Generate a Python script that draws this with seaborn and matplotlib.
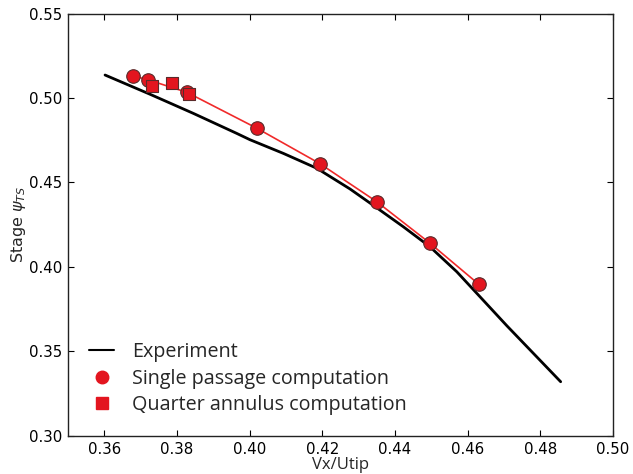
import numpy as np
import pandas as pd
import matplotlib
matplotlib.use("Agg")
import matplotlib.pyplot as plt
from matplotlib.lines import Line2D
import seaborn as sns

# ---- data ----
exp_x = [0.3602, 0.3726, 0.3845, 0.3964, 0.4001, 0.4093, 0.4185, 0.4276,
         0.4350, 0.4423, 0.4496, 0.4570, 0.4652, 0.4708, 0.4856]
exp_y = [0.5136, 0.5022, 0.4909, 0.4791, 0.4753, 0.4672, 0.4584, 0.4462,
         0.4350, 0.4238, 0.4120, 0.3972, 0.3782, 0.3652, 0.3321]

single_x = [0.3678, 0.3721, 0.3827, 0.4020, 0.4193, 0.4350, 0.4495, 0.4631]
single_y = [0.5132, 0.5107, 0.5034, 0.4821, 0.4612, 0.4386, 0.4143, 0.3897]

quarter_x = [0.3730, 0.3785, 0.3833]
quarter_y = [0.5071, 0.5091, 0.5022]

x_ticks = [0.36, 0.38, 0.40, 0.42, 0.44, 0.46, 0.48, 0.50]
y_ticks = [0.30, 0.35, 0.40, 0.45, 0.50, 0.55]

df_exp = pd.DataFrame({"x": exp_x, "y": exp_y})
df_single = pd.DataFrame({"x": single_x, "y": single_y})
df_quarter = pd.DataFrame({"x": quarter_x, "y": quarter_y})

sns.set_style("ticks")
plt.rcParams["font.family"] = ["DejaVu Sans"]

red = "#e3151f"
edge = "#5a2a2a"

fig = plt.figure(figsize=(6.33, 4.74), dpi=100)
ax = fig.add_axes([0.1074, 0.0802, 0.861, 0.8913])

sns.lineplot(data=df_exp, x="x", y="y", color="black", lw=2.0,
             estimator=None, sort=False, ax=ax, zorder=2)
sns.lineplot(data=df_single, x="x", y="y", color="#f02a2a", lw=1.2,
             estimator=None, sort=True, ax=ax, zorder=3)
sns.scatterplot(data=df_single, x="x", y="y", marker="o", s=95, color=red,
                edgecolor=edge, linewidth=0.8, ax=ax, zorder=4)
sns.scatterplot(data=df_quarter, x="x", y="y", marker="s", s=85, color=red,
                edgecolor=edge, linewidth=0.8, ax=ax, zorder=5)

ax.set_xlim(0.35, 0.50)
ax.set_ylim(0.30, 0.55)
ax.set_xticks(x_ticks)
ax.set_yticks(y_ticks)
ax.set_xticklabels([f"{v:.2f}" for v in x_ticks])
ax.set_yticklabels([f"{v:.2f}" for v in y_ticks])
ax.tick_params(direction="in", top=True, right=True, length=4, width=0.8,
               labelsize=10.8, colors="black")
ax.tick_params(axis="x", pad=4)
ax.tick_params(axis="y", pad=4)
for sp in ax.spines.values():
    sp.set_linewidth(1.0)
    sp.set_color("#222222")

ax.set_xlabel("Vx/Utip", fontsize=12, family=["Open Sans", "DejaVu Sans"],
              labelpad=0)
ax.set_ylabel(r"Stage $\psi_{TS}$", fontsize=11.5, labelpad=1)

handles = [
    Line2D([], [], color="black", lw=1.5),
    Line2D([], [], ls="none", marker="o", ms=9, mfc=red, mec=red),
    Line2D([], [], ls="none", marker="s", ms=8, mfc=red, mec=red),
]
labels = ["Experiment", "Single passage computation", "Quarter annulus computation"]
ax.legend(handles, labels, loc="lower left", bbox_to_anchor=(0.038, 0.05),
          frameon=False, borderaxespad=0, borderpad=0, handlelength=1.3,
          handletextpad=0.9, labelspacing=0.32,
          prop={"family": ["Open Sans", "DejaVu Sans"], "size": 14.2})

fig.savefig("out.png", dpi=100)
